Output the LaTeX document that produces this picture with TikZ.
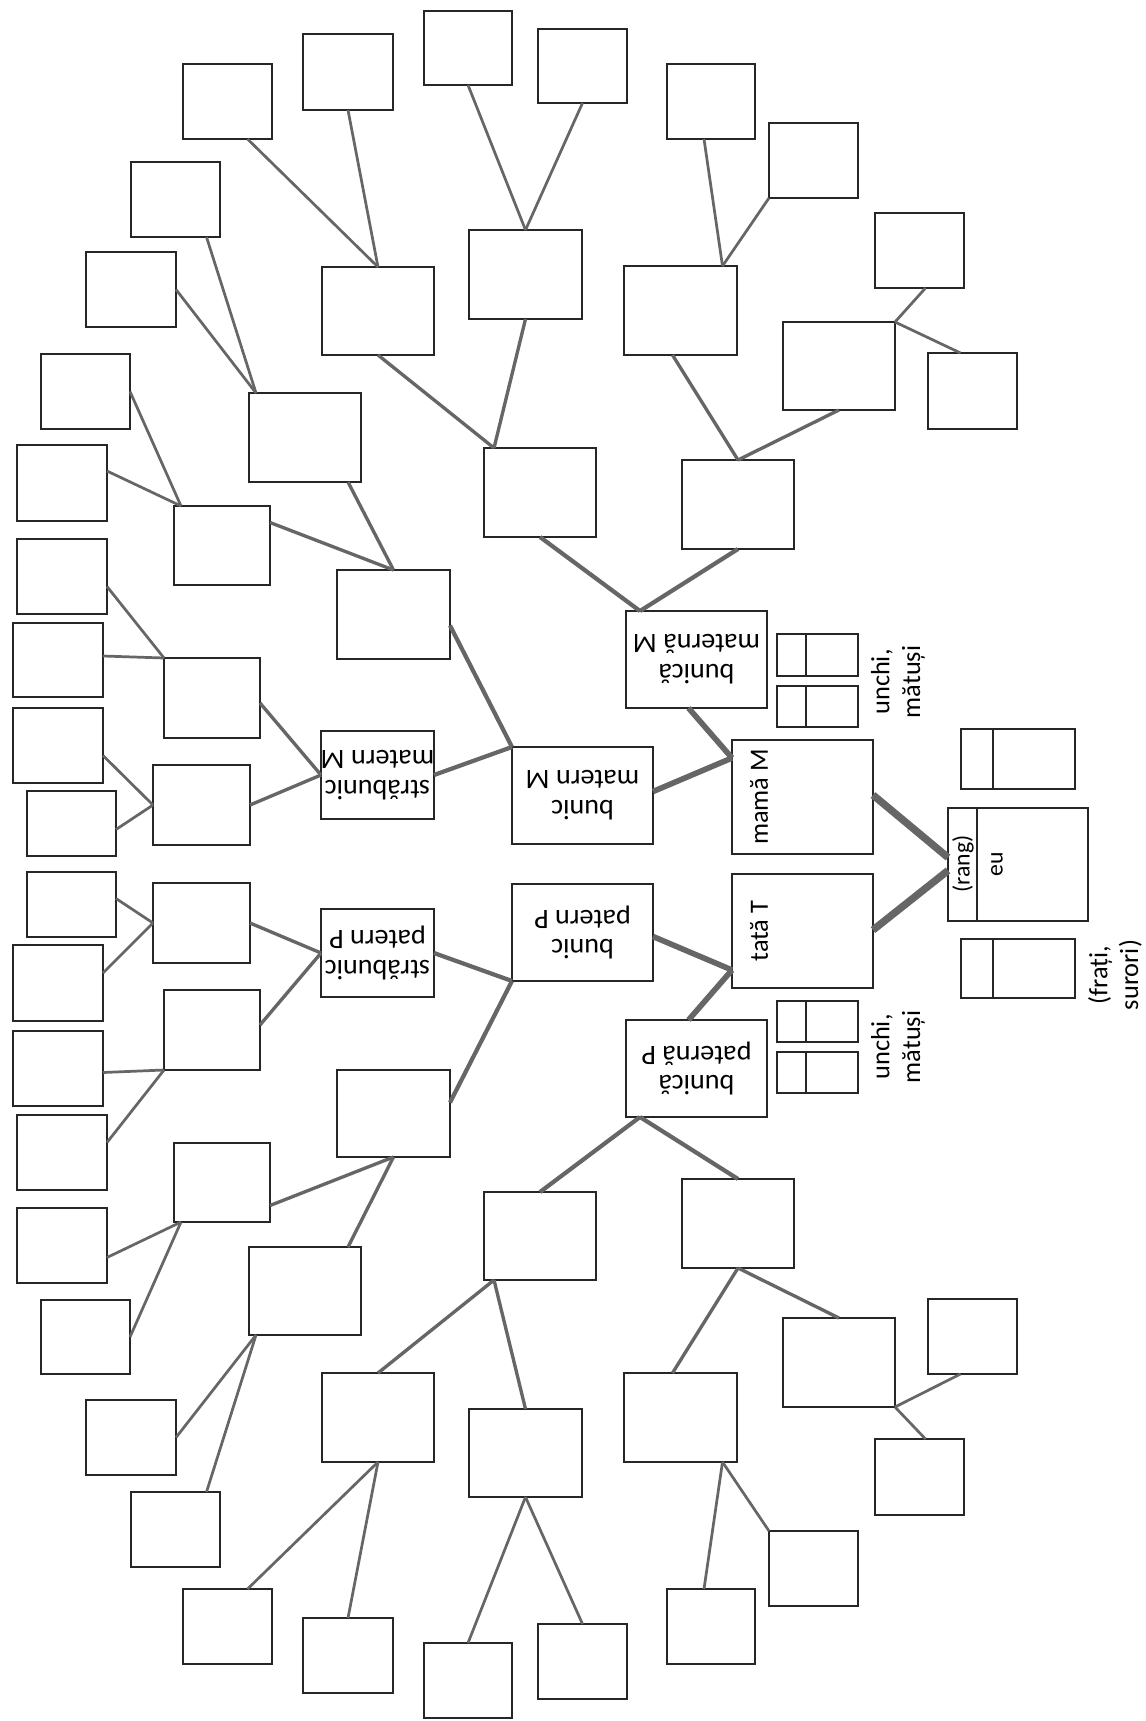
\documentclass[tikz,border=0pt]{standalone}
\usepackage{fontspec}
\setmainfont{Carlito}
\usetikzlibrary{calc,fit}
\definecolor{lineg}{HTML}{666666}
\definecolor{boxc}{HTML}{262626}
\tikzset{
 box/.style={draw=boxc, line width=1.5pt, fill=white, inner sep=0pt, outer sep=0pt},
 lA/.style={draw=lineg, line width=4.2pt},
 lB/.style={draw=lineg, line width=3.2pt},
 lC/.style={draw=lineg, line width=2.4pt},
 lD/.style={draw=lineg, line width=1.9pt},
 lE/.style={draw=lineg, line width=1.55pt},
 lbl/.style={font=\fontsize{15}{17.5}\selectfont, align=center, inner sep=0pt},
 lbls/.style={font=\fontsize{13.5}{15}\selectfont, align=center, inner sep=0pt},
 lblr/.style={font=\fontsize{16}{17}\selectfont, align=center, inner sep=0pt, rotate=180},
 divl/.style={draw=boxc, line width=1.3pt},
}
\newcommand{\bx}[5]{\node[box, fit={(#2,#3) (#4,#5)}] (#1) {};}
\begin{document}
\begin{tikzpicture}[x=0.02cm, y=-0.02cm]
\fill[white] (0,0) rectangle (1146,1721);
\useasboundingbox (0,0) rectangle (1146,1721);
% centre
\bx{eu}{948}{808}{1088}{921}
\bx{sibT}{961}{729}{1075}{789}
\bx{sibB}{961}{939}{1075}{998}
\bx{mama}{732}{740}{873}{854}
\bx{tata}{732}{874}{873}{988}
\bx{uM1}{777}{634}{858}{676}
\bx{uM2}{777}{686}{858}{727}
\bx{uP1}{777}{1001}{858}{1042}
\bx{uP2}{777}{1052}{858}{1093}
\bx{bunicaM}{626}{611}{767}{708}
\bx{bunicaP}{626}{1020}{767}{1117}
\bx{bunicM}{512}{747}{653}{844}
\bx{bunicP}{512}{884}{653}{981}
\bx{strM}{321}{731}{434}{819}
\bx{strP}{321}{909}{434}{997}
% maternal grandmother branch
\bx{A1}{484}{448}{596}{537}
\bx{A2}{682}{460}{794}{549}
\bx{B1}{322}{267}{434}{355}
\bx{B2}{469}{230}{582}{319}
\bx{B3}{624}{266}{737}{355}
\bx{B4}{783}{322}{895}{410}
\bx{C1}{183}{64}{272}{139}
\bx{C2}{303}{34}{393}{110}
\bx{C3}{424}{11}{512}{85}
\bx{C4}{538}{29}{627}{103}
\bx{C5}{667}{64}{755}{139}
\bx{C6}{769}{123}{858}{198}
\bx{C7}{875}{213}{964}{288}
\bx{C8}{928}{353}{1017}{429}
% paternal grandmother branch
\bx{A3}{484}{1192}{596}{1280}
\bx{A4}{682}{1179}{794}{1268}
\bx{B5}{322}{1373}{434}{1462}
\bx{B6}{469}{1409}{582}{1497}
\bx{B7}{624}{1373}{737}{1462}
\bx{B8}{783}{1318}{895}{1407}
\bx{C9}{183}{1589}{272}{1664}
\bx{C10}{303}{1618}{393}{1693}
\bx{C11}{424}{1643}{512}{1718}
\bx{C12}{538}{1624}{627}{1699}
\bx{C13}{667}{1589}{755}{1664}
\bx{C14}{769}{1531}{858}{1606}
\bx{C15}{875}{1439}{964}{1515}
\bx{C16}{928}{1299}{1017}{1374}
% maternal grandfather branch
\bx{D1}{337}{570}{450}{659}
\bx{E1}{249}{393}{361}{482}
\bx{E2}{174}{506}{270}{585}
\bx{F1}{86}{252}{176}{327}
\bx{F2}{131}{162}{220}{237}
\bx{F3}{41}{354}{130}{429}
\bx{F4}{17}{445}{107}{521}
\bx{G1}{164}{658}{260}{738}
\bx{G2}{153}{765}{250}{845}
\bx{H1}{17}{539}{107}{614}
\bx{H2}{13}{623}{103}{697}
\bx{H3}{13}{708}{103}{783}
\bx{H4}{27}{791}{116}{856}
% paternal grandfather branch
\bx{D2}{337}{1070}{450}{1157}
\bx{E3}{249}{1247}{361}{1335}
\bx{E4}{174}{1143}{270}{1222}
\bx{F5}{86}{1400}{176}{1475}
\bx{F6}{131}{1492}{220}{1567}
\bx{F7}{41}{1300}{130}{1374}
\bx{F8}{17}{1208}{107}{1283}
\bx{G3}{164}{990}{260}{1070}
\bx{G4}{153}{883}{250}{963}
\bx{H5}{17}{1115}{107}{1190}
\bx{H6}{13}{1031}{103}{1106}
\bx{H7}{13}{945}{103}{1021}
\bx{H8}{27}{872}{116}{937}
% dividers
\draw[divl] ($(eu.north west)+(29,0)$) -- ($(eu.south west)+(29,0)$);
\draw[divl] ($(sibT.north west)+(32,0)$) -- ($(sibT.south west)+(32,0)$);
\draw[divl] ($(sibB.north west)+(32,0)$) -- ($(sibB.south west)+(32,0)$);
\draw[divl] ($(uM1.north west)+(29,0)$) -- ($(uM1.south west)+(29,0)$);
\draw[divl] ($(uM2.north west)+(29,0)$) -- ($(uM2.south west)+(29,0)$);
\draw[divl] ($(uP1.north west)+(29,0)$) -- ($(uP1.south west)+(29,0)$);
\draw[divl] ($(uP2.north west)+(29,0)$) -- ($(uP2.south west)+(29,0)$);
% level 1
\draw[lA] ($(mama.east)+(0,-2)$) -- ($(eu.west)+(0,-7)$);
\draw[lA] ($(tata.east)+(0,-1)$) -- ($(eu.west)+(0,6)$);
% level 2
\coordinate (mamaP) at ($(mama.north west)+(0,18)$);
\coordinate (tataP) at ($(tata.south west)+(0,-18)$);
\draw[lB] (mamaP) -- ($(bunicaM.south)+(-8,0)$);
\draw[lB] (mamaP) -- ($(bunicM.east)+(0,-4)$);
\draw[lB] (tataP) -- ($(bunicaP.north)+(-8,0)$);
\draw[lB] (tataP) -- ($(bunicP.east)+(0,4)$);
% level 3
\coordinate (bcM) at ($(bunicaM.north west)+(14,0)$);
\coordinate (bcP) at ($(bunicaP.south west)+(14,0)$);
\draw[lC] (bcM) -- (A1.south);
\draw[lC] (bcM) -- (A2.south);
\draw[lC] (bcP) -- (A3.north);
\draw[lC] (bcP) -- (A4.north);
\draw[lC] (bunicM.north west) -- ($(D1.east)+(0,11)$);
\draw[lC] (bunicM.north west) -- (strM.east);
\draw[lC] (bunicP.south west) -- ($(D2.east)+(0,-11)$);
\draw[lC] (bunicP.south west) -- (strP.east);
% level 4
\coordinate (a1p) at ($(A1.north west)+(10,0)$);
\coordinate (a3p) at ($(A3.south west)+(10,0)$);
\draw[lD] (a1p) -- (B1.south);
\draw[lD] (a1p) -- (B2.south);
\draw[lD] (A2.north) -- ($(B3.south)+(-8,0)$);
\draw[lD] (A2.north) -- (B4.south);
\draw[lD] (a3p) -- (B5.north);
\draw[lD] (a3p) -- (B6.north);
\draw[lD] (A4.south) -- ($(B7.north)+(-8,0)$);
\draw[lD] (A4.south) -- (B8.north);
\draw[lD] (D1.north) -- ($(E1.south)+(43,0)$);
\draw[lD] (D1.north) -- ($(E2.east)+(0,-23)$);
\draw[lD] (D2.south) -- ($(E3.north)+(43,0)$);
\draw[lD] (D2.south) -- ($(E4.east)+(0,23)$);
\draw[lD] (strM.west) -- ($(G1.east)+(0,5)$);
\draw[lD] (strM.west) -- (G2.east);
\draw[lD] (strP.west) -- ($(G3.east)+(0,-5)$);
\draw[lD] (strP.west) -- (G4.east);
% level 5 maternal
\draw[lE] (B1.north) -- ($(C1.south)+(20,0)$);
\draw[lE] (B1.north) -- (C2.south);
\draw[lE] (B2.north) -- (C3.south);
\draw[lE] (B2.north) -- (C4.south);
\coordinate (b3p) at ($(B3.north)+(42,0)$);
\draw[lE] (b3p) -- ($(C5.south)+(-7,0)$);
\draw[lE] (b3p) -- (C6.south west);
\draw[lE] (B4.north east) -- ($(C7.south)+(6,0)$);
\draw[lE] (B4.north east) -- ($(C8.north)+(-12,0)$);
\coordinate (e1p) at ($(E1.north west)+(7,0)$);
\draw[lE] (e1p) -- ($(F2.south)+(31,0)$);
\draw[lE] (e1p) -- (F1.east);
\coordinate (e2p) at ($(E2.north west)+(7,0)$);
\draw[lE] (e2p) -- (F3.east);
\draw[lE] (e2p) -- ($(F4.east)+(0,-12)$);
\draw[lE] (G1.north west) -- ($(H1.east)+(0,10)$);
\draw[lE] (G1.north west) -- ($(H2.east)+(0,-4)$);
\draw[lE] (G2.west) -- ($(H3.east)+(0,10)$);
\draw[lE] (G2.west) -- ($(H4.east)+(0,6)$);
% level 5 paternal
\draw[lE] (B5.south) -- ($(C9.north)+(20,0)$);
\draw[lE] (B5.south) -- (C10.north);
\draw[lE] (B6.south) -- (C11.north);
\draw[lE] (B6.south) -- (C12.north);
\coordinate (b7p) at ($(B7.south)+(42,0)$);
\draw[lE] (b7p) -- ($(C13.north)+(-7,0)$);
\draw[lE] (b7p) -- (C14.north west);
\draw[lE] (B8.south east) -- ($(C15.north)+(6,0)$);
\draw[lE] (B8.south east) -- ($(C16.south)+(-12,0)$);
\coordinate (e3p) at ($(E3.south west)+(7,0)$);
\draw[lE] (e3p) -- ($(F6.north)+(31,0)$);
\draw[lE] (e3p) -- (F5.east);
\coordinate (e4p) at ($(E4.south west)+(7,0)$);
\draw[lE] (e4p) -- (F7.east);
\draw[lE] (e4p) -- ($(F8.east)+(0,12)$);
\draw[lE] (G3.south west) -- ($(H5.east)+(0,-10)$);
\draw[lE] (G3.south west) -- ($(H6.east)+(0,4)$);
\draw[lE] (G4.west) -- ($(H7.east)+(0,-10)$);
\draw[lE] (G4.west) -- ($(H8.east)+(0,-6)$);
% texts
\node[lbls, rotate=90] (teu) at (997,864) {eu};
\node[lbls, rotate=90] (trang) at (963,864) {(rang)};
\node[lbl, rotate=90] (tmama) at (759,797) {mamă M};
\node[lbl, rotate=90] (ttata) at (759,931) {tată T};
\node[lbl, rotate=90] (tfrati) at (1115,975) {(frați,\\surori)};
\node[lbl, rotate=90] (tuM) at (898,682) {unchi,\\mătuși};
\node[lbl, rotate=90] (tuP) at (898,1047) {unchi,\\mătuși};
\node[lblr] (tbcM) at (bunicaM) {bunică\\maternă M};
\node[lblr] (tbcP) at (bunicaP) {bunică\\paternă P};
\node[lblr] (tbM) at (bunicM) {bunic\\matern M};
\node[lblr] (tbP) at (bunicP) {bunic\\patern P};
\node[lblr] (tsM) at (strM) {străbunic\\matern M};
\node[lblr] (tsP) at (strP) {străbunic\\patern P};
\end{tikzpicture}
\end{document}
